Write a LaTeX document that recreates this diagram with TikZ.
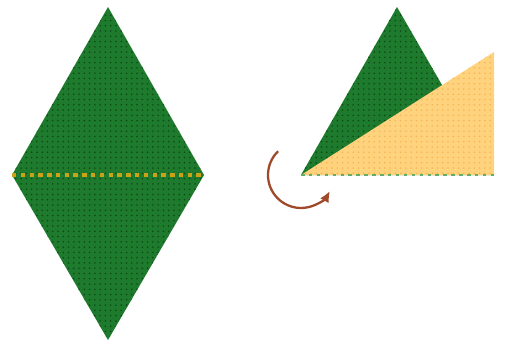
\documentclass[tikz,border=0pt]{standalone}
\usepackage{tikz}
\usetikzlibrary{arrows.meta,patterns}
\definecolor{leafgreen}{HTML}{1E7A2C}
\definecolor{dotgreen}{HTML}{0E4A18}
\definecolor{paleorange}{HTML}{FFD37E}
\definecolor{dotorange}{HTML}{F5B450}
\definecolor{seamgold}{HTML}{C9A21A}
\definecolor{turnbrown}{HTML}{A0482A}

\begin{document}
\begin{tikzpicture}[x=0.02cm,y=-0.02cm]
\useasboundingbox (0,0) rectangle (506,342);
% left: whole rhombus made of two triangles, seam dotted
\coordinate (lt) at (108,7);
\coordinate (lb) at (108,340);
\coordinate (ll) at (12,175);
\coordinate (lr) at (204,175);
\fill[leafgreen] (lt) -- (lr) -- (lb) -- (ll) -- cycle;
\fill[pattern=dots,pattern color=dotgreen] (lt) -- (lr) -- (lb) -- (ll) -- cycle;
\draw[seamgold,line width=2.2pt,dash pattern=on 2.5pt off 2.5pt] (ll) -- (lr);
% right: upper triangle stays, lower one is turned up over it
\coordinate (rt) at (397,7);
\coordinate (rl) at (301,175);
\coordinate (rr) at (494,175);
\coordinate (rf) at (494,52);
\fill[leafgreen] (rl) -- (rt) -- (rr) -- cycle;
\fill[pattern=dots,pattern color=dotgreen] (rl) -- (rt) -- (rr) -- cycle;
\fill[paleorange] (rl) -- (rf) -- (rr) -- cycle;
\fill[pattern=dots,pattern color=dotorange] (rl) -- (rf) -- (rr) -- cycle;
\draw[green!45!black!60,line width=1.2pt,dash pattern=on 2pt off 2.5pt] (rl) -- (rr);
% turning arrow round the left corner
\draw[turnbrown,line width=1.3pt,-{Latex[length=2.2mm,width=2mm]}]
  ([shift={(-134:33)}]rl) arc[start angle=-134,end angle=-331,radius=33];
\end{tikzpicture}
\end{document}
